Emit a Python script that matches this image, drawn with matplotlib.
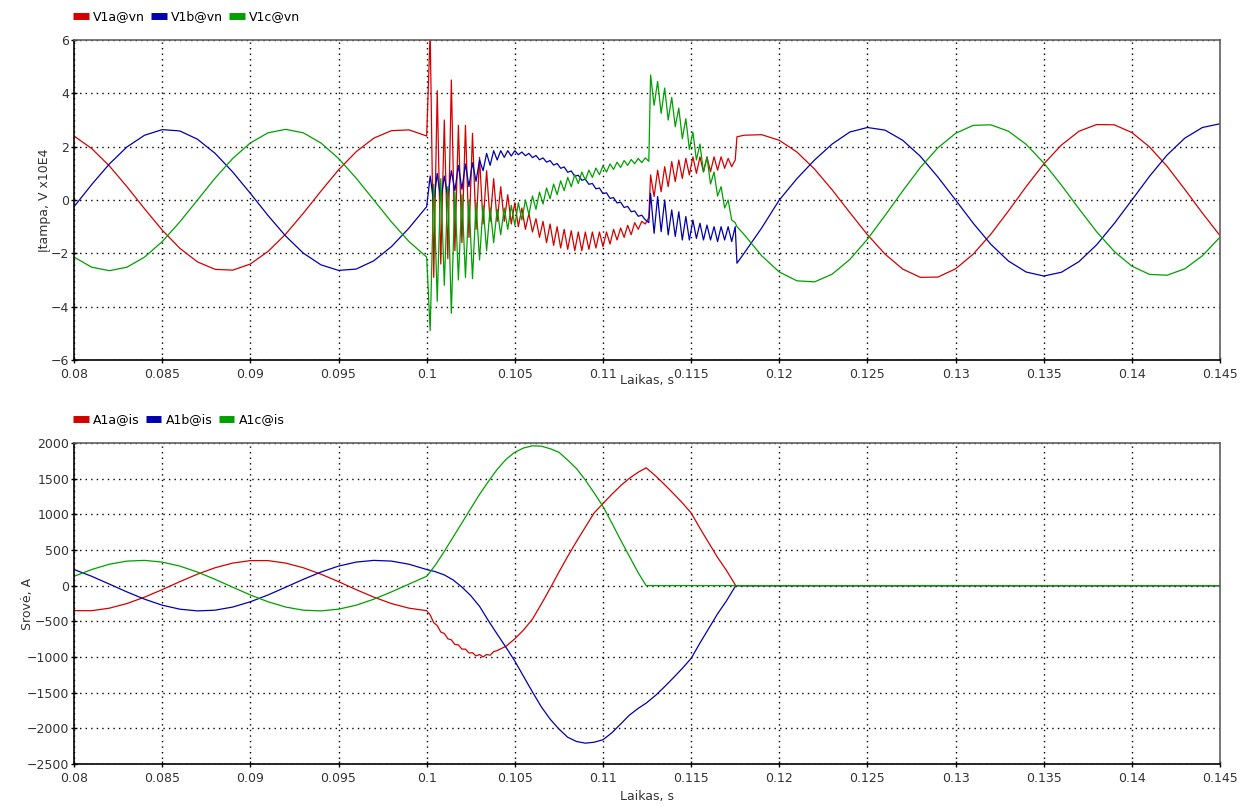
import numpy as np
import matplotlib
matplotlib.use("Agg")
import matplotlib.pyplot as plt
from matplotlib.lines import Line2D
from matplotlib.ticker import FuncFormatter, MultipleLocator

# ------------------------------------------------------------
# voltages, x10E4 V  (time in ms)
# ------------------------------------------------------------
t_v_pre = np.arange(80, 101)                 # 80 .. 100
t_v_fault = np.arange(1002, 1127, 2) / 10.0  # 100.2 .. 112.6
t_v_arc = np.arange(1127, 1176, 2) / 10.0    # 112.7 .. 117.5
t_v_post = [117.6] + list(range(118, 146))   # 117.6 .. 145

va_pre = [2.40, 1.93, 1.28, 0.50, -0.33, -1.13, -1.81, -2.32, -2.60, -2.63, -2.40,
          -1.93, -1.28, -0.50, 0.33, 1.13, 1.81, 2.32, 2.60, 2.63, 2.40]
vb_pre = [-0.25, 0.58, 1.35, 1.99, 2.43, 2.64, 2.59, 2.28, 1.75, 1.05, 0.25,
          -0.58, -1.35, -1.99, -2.43, -2.64, -2.59, -2.28, -1.75, -1.05, -0.25]
vc_pre = [-2.14, -2.52, -2.65, -2.52, -2.14, -1.56, -0.82, 0.00, 0.82, 1.56, 2.14,
          2.52, 2.65, 2.52, 2.14, 1.56, 0.82, 0.00, -0.82, -1.56, -2.14]

va_fault = [6.3, -2.9, 4.1, -2.4, 3.0, -2.2, 4.5, -1.9, 2.8, -1.6,
            2.8, -1.4, 2.5, -1.1, 1.6, -0.9, 1.1, -0.8, 0.8, -0.8,
            0.5, -0.8, 0.2, -0.9, -0.1, -1.0, -0.3, -1.1, -0.5, -1.2,
            -0.7, -1.4, -0.8, -1.6, -0.9, -1.7, -1.0, -1.8, -1.1, -1.85,
            -1.15, -1.9, -1.2, -1.9, -1.2, -1.85, -1.2, -1.8, -1.2, -1.75,
            -1.2, -1.65, -1.1, -1.5, -1.05, -1.4, -0.95, -1.3, -0.85, -1.1,
            -0.8, -0.9, -0.65]
vb_fault = [0.9, -0.1, 1.0, 0.0, 0.9, 0.1, 1.1, 0.35, 1.3, 0.4,
            1.35, 0.5, 1.4, 0.7, 1.5, 1.1, 1.75, 1.3, 1.85, 1.5,
            1.85, 1.6, 1.85, 1.65, 1.85, 1.70, 1.80, 1.66, 1.75, 1.59,
            1.67, 1.51, 1.58, 1.42, 1.48, 1.31, 1.37, 1.19, 1.24, 1.04,
            1.09, 0.89, 0.93, 0.74, 0.78, 0.59, 0.62, 0.42, 0.45, 0.24,
            0.27, 0.06, 0.09, -0.11, -0.08, -0.28, -0.24, -0.44, -0.41, -0.61,
            -0.57, -0.74, -0.85]
vc_fault = [-4.9, 0.6, -3.8, 0.8, -3.2, 0.5, -4.25, 0.3, -3.0, 0.2,
            -2.9, 0.0, -2.95, -0.1, -2.25, -0.2, -1.9, -0.3, -1.6, -0.35,
            -1.3, -0.3, -1.1, -0.2, -0.95, -0.1, -0.75, 0.0, -0.55, 0.15,
            -0.35, 0.3, -0.15, 0.45, 0.05, 0.6, 0.2, 0.72, 0.35, 0.85,
            0.5, 0.95, 0.62, 1.05, 0.75, 1.12, 0.85, 1.2, 0.95, 1.28,
            1.05, 1.35, 1.15, 1.42, 1.22, 1.48, 1.3, 1.52, 1.36, 1.56,
            1.4, 1.58, 1.45]

va_arc = [0.94, 0.13, 1.12, 0.31, 1.25, 0.5, 1.44, 0.69, 1.5, 0.81, 1.56, 0.94, 1.62,
          1.0, 1.62, 1.06, 1.62, 1.06, 1.62, 1.12, 1.62, 1.19, 1.56, 1.25, 1.5]
vb_arc = [0.25, -1.25, 0.13, -1.19, 0.0, -1.31, -0.37, -1.37, -0.44, -1.5, -0.62, -1.5, -0.75,
          -1.44, -0.87, -1.5, -0.94, -1.5, -1.0, -1.56, -1.0, -1.5, -1.0, -1.56, -1.0]
vc_arc = [4.69, 3.55, 4.45, 3.25, 4.2, 3.0, 3.85, 2.75, 3.45, 2.3, 3.05, 1.9, 2.55,
          1.5, 2.1, 1.05, 1.6, 0.6, 1.05, 0.15, 0.5, -0.3, 0.0, -0.75, -0.85]

va_post = [2.37, 2.43, 2.45, 2.24, 1.80, 1.16, 0.38, -0.47, -1.30, -2.03, -2.59, -2.90,
           -2.89, -2.58, -2.03, -1.28, -0.41, 0.50, 1.35, 2.06, 2.58, 2.83, 2.82, 2.53,
           1.99, 1.26, 0.40, -0.49, -1.34]
vb_post = [-2.37, -2.0, -1.05, 0.0, 0.8, 1.5, 2.1, 2.55, 2.72, 2.62, 2.24, 1.64, 0.86,
           0.0, -0.87, -1.66, -2.29, -2.70, -2.85, -2.71, -2.31, -1.68, -0.88, 0.0, 0.89,
           1.69, 2.32, 2.72, 2.86]
vc_post = [-1.0, -1.29, -2.09, -2.70, -3.03, -3.07, -2.78, -2.23, -1.47, -0.58, 0.34, 1.22,
           1.96, 2.50, 2.80, 2.82, 2.58, 2.09, 1.39, 0.56, -0.33, -1.19, -1.93, -2.48,
           -2.79, -2.82, -2.58, -2.09, -1.39]

# ------------------------------------------------------------
# currents, A  (time in ms)
# ------------------------------------------------------------
t_i_pre = np.arange(80, 101)
t_i_post = list(np.arange(1005, 1121, 5) / 10.0) + [112.45] + \
           list(np.arange(1130, 1171, 5) / 10.0) + [117.53, 145.0]
t_ia_post = list(np.arange(1002, 1041, 2) / 10.0) + list(np.arange(1045, 1121, 5) / 10.0) + \
            [112.45] + list(np.arange(1130, 1171, 5) / 10.0) + [117.53, 145.0]

ia_pre = [-351, -351, -316, -251, -161, -56, 56, 161, 251, 316, 351,
          351, 316, 251, 161, 56, -56, -161, -251, -316, -351]
ib_pre = [226, 131, 22, -88, -190, -274, -330, -354, -344, -300, -226,
          -131, -22, 88, 190, 274, 330, 354, 344, 300, 226]
ic_pre = [131, 226, 300, 344, 354, 330, 274, 190, 88, -22, -131,
          -226, -300, -344, -354, -330, -274, -190, -88, 22, 131]

ia_post = [-410, -520, -560, -650, -670, -745, -760, -825, -830, -890,
           -890, -945, -940, -985, -965, -1000, -965, -975, -925, -910,
           -850, -745, -620, -470, -260, -40, 190, 410, 620, 820, 1020, 1150,
           1280, 1400, 1505, 1590,
           1652,
           1535, 1415, 1290, 1160, 1020, 805, 600, 395, 215,
           0, 0]
ib_post = [195, 150, 80, -20, -140, -290, -491, -680, -865, -1057, -1274, -1490,
           -1698, -1870, -2010, -2125, -2185, -2208, -2195, -2160, -2064, -1940, -1815, -1720,
           -1647,
           -1535, -1415, -1290, -1160, -1020, -805, -600, -395, -215,
           0, 0]
ic_post = [290, 480, 680, 880, 1080, 1280, 1460, 1630, 1770, 1870, 1930, 1960,
           1955, 1920, 1870, 1760, 1640, 1480, 1300, 1110, 880, 640, 410, 180,
           0,
           0, 0, 0, 0, 0, 0, 0, 0, 0,
           0, 0]

top_names = ["V1a@vn", "V1b@vn", "V1c@vn"]
bot_names = ["A1a@is", "A1b@is", "A1c@is"]
colors = ["#d40000", "#0000b0", "#00a000"]


def trace(*segs):
    t = np.concatenate([np.asarray(s[0], float) for s in segs]) / 1000.0
    v = np.concatenate([np.asarray(s[1], float) for s in segs])
    return t, v


volt = [
    trace((t_v_pre, va_pre), (t_v_fault, va_fault), (t_v_arc, va_arc), (t_v_post, va_post)),
    trace((t_v_pre, vb_pre), (t_v_fault, vb_fault), (t_v_arc, vb_arc), (t_v_post, vb_post)),
    trace((t_v_pre, vc_pre), (t_v_fault, vc_fault), (t_v_arc, vc_arc), (t_v_post, vc_post)),
]
curr = [
    trace((t_i_pre, ia_pre), (t_ia_post, ia_post)),
    trace((t_i_pre, ib_pre), (t_i_post, ib_post)),
    trace((t_i_pre, ic_pre), (t_i_post, ic_post)),
]

plt.rcParams['font.family'] = ['DejaVu Sans']

fig = plt.figure(figsize=(12.53, 8.07), dpi=100)
ax1 = fig.add_axes([0.0591, 0.5539, 0.9146, 0.3965])
ax2 = fig.add_axes([0.0591, 0.0533, 0.9146, 0.3978])

fmt = FuncFormatter(lambda x, p: '%g' % round(x, 4))


def style(ax, names, ylabel, ylab_x, xpad, xlabpad):
    ax.set_xlim(0.08, 0.145)
    ax.xaxis.set_major_locator(MultipleLocator(0.005))
    ax.xaxis.set_major_formatter(fmt)
    ax.grid(True, color='black', linestyle=(0, (1, 3)), linewidth=1.0)
    ax.tick_params(direction='inout', length=5, width=1, labelsize=9,
                   labelcolor='#333333', pad=1)
    ax.tick_params(axis='x', pad=xpad)
    for side in ['left', 'bottom']:
        ax.spines[side].set_color('black')
        ax.spines[side].set_linewidth(1.2)
    for side in ['top', 'right']:
        ax.spines[side].set_color('#606060')
        ax.spines[side].set_linewidth(1.2)
    ax.set_xlabel('Laikas, s', fontsize=9, color='#333333', labelpad=xlabpad)
    ax.set_ylabel(ylabel, fontsize=9, color='#333333')
    ax.yaxis.set_label_coords(ylab_x, 0.5)
    handles = [Line2D([0], [0], color=c, lw=5, solid_capstyle='butt') for c in colors]
    ax.legend(handles, names, loc='lower left', bbox_to_anchor=(-0.001, 1.052), ncol=3,
              frameon=False, fontsize=9, handlelength=1.25, handletextpad=0.35,
              columnspacing=0.5, borderaxespad=0, borderpad=0)


for (t, v), c in zip(volt, colors):
    ax1.plot(t, v, color=c, lw=0.9)
ax1.set_ylim(-6, 6)
ax1.yaxis.set_major_locator(MultipleLocator(2))
style(ax1, top_names, 'Įtampa, V x10E4', -0.020, 3, -5)

for (t, v), c in zip(curr, colors):
    ax2.plot(t, v, color=c, lw=0.9)
ax2.set_ylim(-2500, 2000)
ax2.yaxis.set_major_locator(MultipleLocator(500))
style(ax2, bot_names, 'Srovė, A', -0.035, 3, 4)

fig.savefig('out.png', dpi=100)
